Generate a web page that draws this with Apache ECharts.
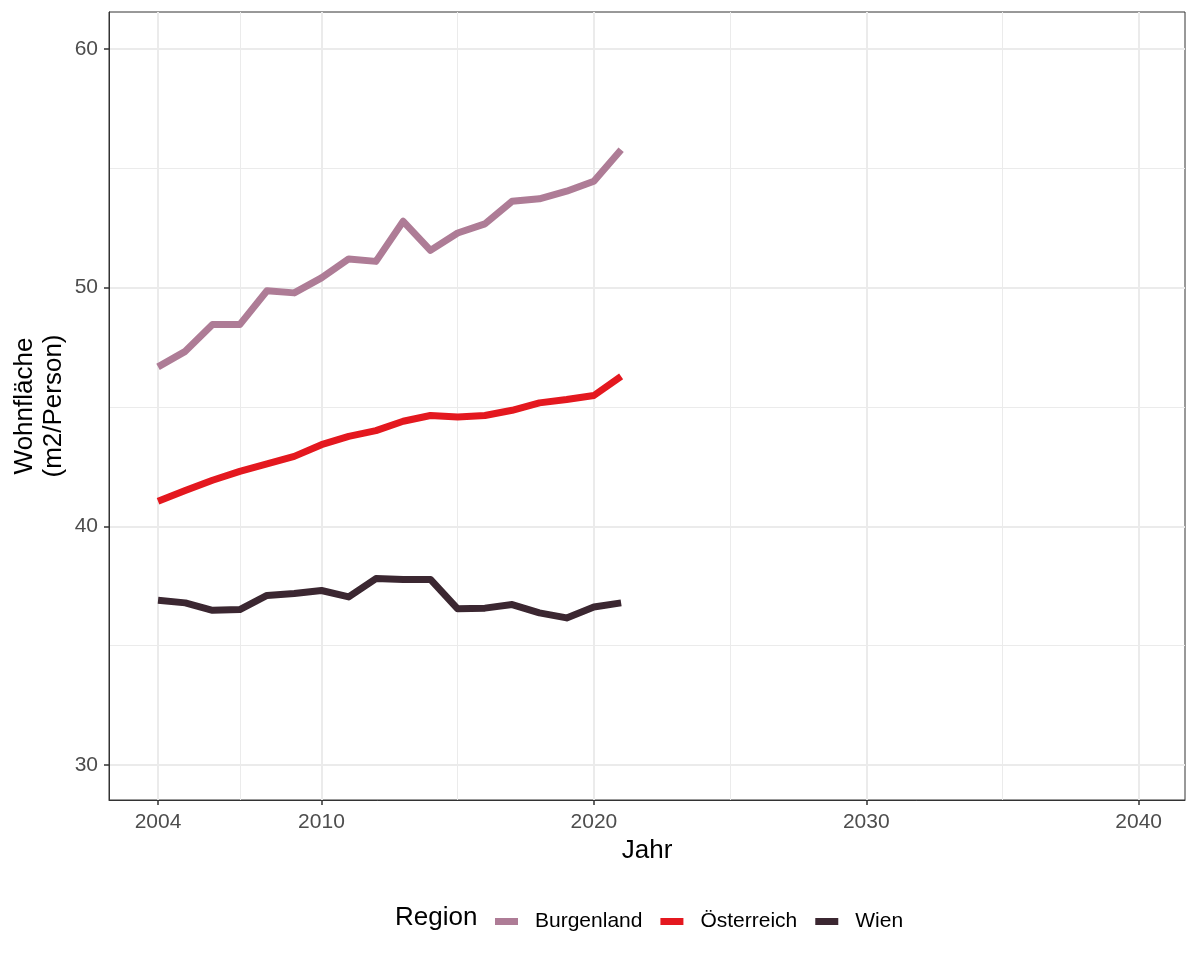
<!DOCTYPE html>
<html>
<head>
<meta charset="utf-8">
<script src="https://cdn.jsdelivr.net/npm/echarts@6/dist/echarts.min.js"></script>
<style>
  html, body { margin: 0; padding: 0; background: #fff; }
  #chart { width: 1200px; height: 960px; }
</style>
</head>
<body>
<div id="chart"></div>
<script>
// Jahre und Werte (Wohnfläche m2 pro Person)
const years = [2004, 2005, 2006, 2007, 2008, 2009, 2010, 2011, 2012, 2013, 2014, 2015, 2016, 2017, 2018, 2019, 2020, 2021]
const burgenland = [46.68, 47.33, 48.45, 48.45, 49.87, 49.78, 50.41, 51.2, 51.1, 52.78, 51.56, 52.29, 52.67, 53.62, 53.72, 54.04, 54.46, 55.78]
const oesterreich = [41.05, 41.5, 41.93, 42.3, 42.61, 42.93, 43.42, 43.77, 44.01, 44.4, 44.64, 44.58, 44.64, 44.86, 45.17, 45.31, 45.48, 46.28]
const wien = [36.9, 36.79, 36.48, 36.51, 37.1, 37.18, 37.31, 37.04, 37.81, 37.77, 37.77, 36.54, 36.57, 36.72, 36.37, 36.16, 36.62, 36.79]

const xTicks = [2004, 2010, 2020, 2030, 2040]
const xMinor = [2007, 2015, 2025, 2035]
const yTicks = [30, 40, 50, 60]
const yMinor = [35, 45, 55]

const regions = ['Burgenland', 'Österreich', 'Wien']
const colors = ['#ae7c96', '#e4181f', '#3b2731']
const values = [burgenland, oesterreich, wien]

const font = '"Liberation Sans", Arial, sans-serif'
const grid = '#ebebeb'

const chart = echarts.init(document.getElementById('chart'))

chart.setOption({
  animation: false,
  color: colors,
  title: {
    text: 'Region',
    left: 395,
    top: 905,
    padding: 0,
    textStyle: { fontFamily: font, fontSize: 26, fontWeight: 'normal', color: '#000' }
  },
  legend: {
    data: regions,
    left: 495,
    top: 911,
    padding: 0,
    icon: 'rect',
    itemWidth: 23,
    itemHeight: 7,
    itemGap: 18,
    textStyle: { fontFamily: font, fontSize: 21, color: '#000', padding: [0, 0, 0, 12] }
  },
  grid: {
    left: 109,
    right: 15,
    top: 12,
    bottom: 160,
    outerBoundsMode: 'none',
    containLabel: false,
    show: true,
    borderColor: '#333',
    borderWidth: 1
  },
  xAxis: [{
    type: 'value',
    min: 2002.2,
    max: 2041.7,
    name: 'Jahr',
    nameLocation: 'middle',
    nameGap: 37,
    nameTextStyle: { fontFamily: font, fontSize: 26, color: '#000' },
    axisLine: { show: true, lineStyle: { color: '#333', width: 1 } },
    axisTick: { show: true, length: 5, customValues: xTicks, lineStyle: { color: '#333', width: 1.5 } },
    axisLabel: {
      customValues: xTicks,
      margin: 12,
      fontFamily: font,
      fontSize: 21,
      color: '#4d4d4d',
      formatter: v => String(v)
    },
    splitLine: { show: true, lineStyle: { color: grid, width: 2 } }
  }, {
    type: 'value',
    min: 2002.2,
    max: 2041.7,
    position: 'top',
    axisLine: { show: false },
    axisTick: { show: false, customValues: xMinor },
    axisLabel: { show: false },
    splitLine: { show: true, lineStyle: { color: grid, width: 1 } }
  }],
  yAxis: [{
    type: 'value',
    min: 28.53,
    max: 61.55,
    name: 'Wohnfläche\n(m2/Person)',
    nameLocation: 'middle',
    nameRotate: 90,
    nameGap: 41,
    nameMoveOverlap: false,
    nameTextStyle: { fontFamily: font, fontSize: 26, lineHeight: 29, color: '#000' },
    axisLine: { show: true, lineStyle: { color: '#333', width: 1 } },
    axisTick: { show: true, length: 5, customValues: yTicks, lineStyle: { color: '#333', width: 1.5 } },
    axisLabel: {
      customValues: yTicks,
      margin: 11,
      fontFamily: font,
      fontSize: 21,
      color: '#4d4d4d'
    },
    splitLine: { show: true, lineStyle: { color: grid, width: 2 } }
  }, {
    type: 'value',
    min: 28.53,
    max: 61.55,
    position: 'right',
    axisLine: { show: false },
    axisTick: { show: false, customValues: yMinor },
    axisLabel: { show: false },
    splitLine: { show: true, lineStyle: { color: grid, width: 1 } }
  }],
  series: regions.map((name, i) => ({
    name,
    type: 'line',
    xAxisIndex: 0,
    yAxisIndex: 0,
    data: years.map((y, j) => [y, values[i][j]]),
    showSymbol: false,
    symbol: 'none',
    lineStyle: { width: 7, color: colors[i], join: 'round', cap: 'butt' }
  }))
})

window.addEventListener('resize', () => chart.resize())
</script>
</body>
</html>
